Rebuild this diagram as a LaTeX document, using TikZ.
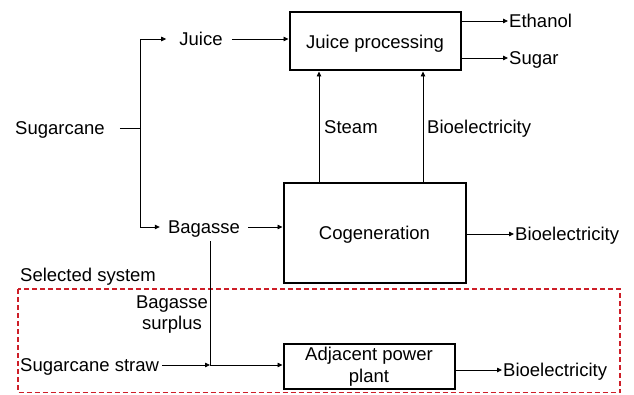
\documentclass[tikz,border=0pt]{standalone}
\usepackage{fontspec}
\setmainfont{Liberation Sans}
\usetikzlibrary{arrows.meta}
\definecolor{sysred}{RGB}{205,30,40}
\begin{document}
\begin{tikzpicture}[x=1pt,y=-1pt,
  txt/.style={inner sep=0pt, font=\fontsize{18.5}{21}\selectfont},
  lbl/.style={txt, text height=13.3pt, text depth=0pt},
  box/.style={draw, line width=2pt, inner sep=0pt, align=center, font=\fontsize{18.5}{21.5}\selectfont},
  wire/.style={line width=0.8pt},
  flow/.style={wire, -{Triangle[length=5pt,width=4.5pt]}},
  sysbox/.style={draw=sysred, line width=1.8pt, dash pattern=on 5pt off 3pt}]
\useasboundingbox (0,0) rectangle (634,395);

% nodes
\node[lbl,anchor=west] (sc) at (15,128) {Sugarcane};
\coordinate (split) at (140,128);
\node[lbl] (juice) at (201,39) {Juice};
\node[lbl] (bag) at (204,227) {Bagasse};
\node[box, text height=13.3pt, text depth=0pt, minimum width=171pt, minimum height=58pt] (jp) at (375,41.5) {Juice processing};
\node[box, text height=13.3pt, text depth=0pt, minimum width=182pt, minimum height=99pt] (cg) at (374.5,233) {Cogeneration};
\node[box, minimum width=171pt, minimum height=45pt] (ap) at (369,366.5) {Adjacent power\\plant};
\node[lbl,anchor=west] (eth) at (509,21) {Ethanol};
\node[lbl,anchor=west] (sug) at (509,58) {Sugar};
\node[lbl,anchor=west] (steam) at (324,127) {Steam};
\node[lbl,anchor=west] (bemid) at (427,127) {Bioelectricity};
\node[lbl,anchor=west] (becg) at (515,234) {Bioelectricity};
\node[lbl,anchor=west] (beap) at (503,370) {Bioelectricity};
\node[lbl,anchor=west] (sel) at (20,275) {Selected system};
\node[txt, align=center] (bs) at (172,315) {Bagasse\\surplus};
\node[lbl,anchor=west] (ss) at (20,365) {Sugarcane straw};
\coordinate (bj) at (210,365);
\coordinate (stx) at (319,0);
\coordinate (bex) at (423,0);

% selected system
\draw[sysbox] (18,289) rectangle (620,392.5);

% connectors
\draw[wire] ([xshift=15pt]sc.east) -- (split);
\draw[flow] (split) |- ([xshift=-13pt]juice.west);
\draw[flow] (split) |- ([xshift=-8pt]bag.west);
\draw[flow] ([xshift=9pt]juice.east) -- (jp.west |- juice);
\draw[flow] ([xshift=8pt]bag.east) -- (cg.west |- bag);
\draw[flow] (cg.north -| stx) -- (jp.south -| stx);
\draw[flow] (cg.north -| bex) -- (jp.south -| bex);
\draw[flow] (jp.east |- eth) -- ([xshift=-1pt]eth.west);
\draw[flow] (jp.east |- sug) -- ([xshift=-1pt]sug.west);
\draw[flow] (cg.east |- becg) -- ([xshift=-1pt]becg.west);
\draw[flow] (ap.east |- beap) -- ([xshift=-1pt]beap.west);
\draw[wire] ([yshift=-7.5pt]bag.south -| bj) -- (bj);
\draw[flow] ([xshift=3pt]ss.east) -- (bj);
\draw[flow] (bj) -- (ap.west |- bj);
\end{tikzpicture}
\end{document}
